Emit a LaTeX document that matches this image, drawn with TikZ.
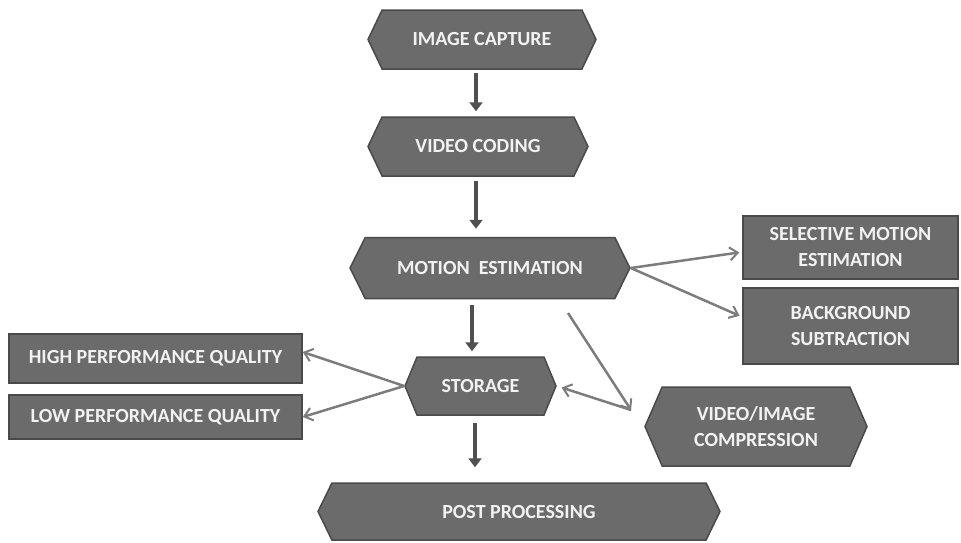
\documentclass[tikz,border=0pt]{standalone}
\usepackage{fontspec}
\setmainfont{Carlito}
\usetikzlibrary{shapes.symbols,arrows.meta}
\definecolor{boxfill}{HTML}{6B6B6B}
\definecolor{boxline}{HTML}{4A4A4A}
\definecolor{mainarrow}{HTML}{505050}
\definecolor{sidearrow}{HTML}{7C7C7C}
\definecolor{boxtext}{HTML}{F2F2F2}
\tikzset{
  base/.style={fill=boxfill, draw=boxline, line width=1.5pt, text=boxtext,
    font=\bfseries\fontsize{20}{26}\selectfont, align=center, inner sep=0pt},
  hexbox/.style={base, signal, signal to=west and east, signal pointer angle=#1},
  hexbox/.default=129,
  rectbox/.style={base, rectangle},
  varrow/.style={draw=mainarrow, line width=4pt, -{Triangle[width=13pt,length=9pt]}},
  sarrow/.style={draw=sidearrow, line width=2.5pt, -{Straight Barb[width=13pt,length=8pt,line width=2pt]}},
  sline/.style={draw=sidearrow, line width=2.5pt}
}
\begin{document}
\begin{tikzpicture}[x=1pt,y=-1pt]
\useasboundingbox (0,0) rectangle (961,542);

% main column
\node[hexbox=129, minimum width=228, minimum height=59] (ic) at (482,39.5) {IMAGE CAPTURE};
\node[hexbox=129, minimum width=220, minimum height=59] (vc) at (478,146.5) {VIDEO CODING};
\node[hexbox=127, minimum width=280, minimum height=61] (me) at (490,268) {MOTION~~ESTIMATION};
\node[hexbox=135, minimum width=151, minimum height=58] (st) at (480.5,386) {STORAGE};
\node[hexbox=128, minimum width=402, minimum height=57] (pp) at (519,511.5) {POST PROCESSING};

% branches
\node[hexbox=133, minimum width=222, minimum height=79] (vic) at (756,426.5) {VIDEO/IMAGE\\COMPRESSION};
\node[rectbox, minimum width=215, minimum height=63] (sme) at (850.5,247.5) {SELECTIVE MOTION\\ESTIMATION};
\node[rectbox, minimum width=215, minimum height=76] (bs) at (850.5,326) {BACKGROUND\\SUBTRACTION};
\node[rectbox, minimum width=293, minimum height=49] (hpq) at (155.5,358.5) {HIGH PERFORMANCE QUALITY};
\node[rectbox, minimum width=293, minimum height=44] (lpq) at (155.5,417) {LOW PERFORMANCE QUALITY};

% vertical flow
\coordinate (c1) at (476,0);
\coordinate (c2) at (472,0);
\coordinate (c3) at (475,0);
\draw[varrow, shorten <=3pt, shorten >=5pt] (ic.south -| c1) -- (vc.north -| c1);
\draw[varrow, shorten <=4pt, shorten >=8pt] (vc.south -| c1) -- (me.north -| c1);
\draw[varrow, shorten <=6pt, shorten >=5pt] (me.south -| c2) -- (st.north -| c2);
\draw[varrow, shorten <=7pt, shorten >=15pt] (st.south -| c3) -- (pp.north -| c3);

% side connectors
\draw[sarrow, shorten >=3pt] (me.east) -- ([yshift=-4.5pt]sme.west);
\draw[sarrow, shorten >=3pt] (me.east) -- ([yshift=9pt]bs.west);
\draw[sarrow] (st.west) -- ([yshift=6.5pt]hpq.east);
\draw[sarrow] (st.west) -- (lpq.east);

% compression links
\coordinate (m) at (568,313);
\coordinate (j) at (631,410);
\draw[sarrow] (m) -- (j);
\draw[sarrow, shorten >=5pt] (j) -- (st.east);
\end{tikzpicture}
\end{document}
